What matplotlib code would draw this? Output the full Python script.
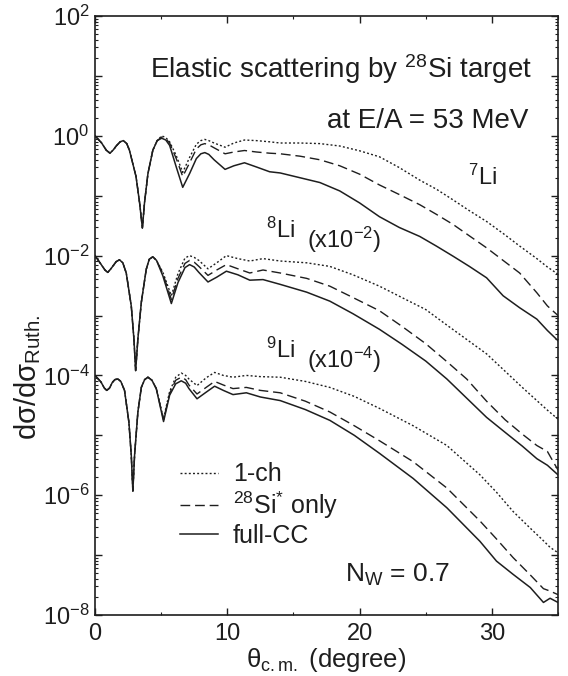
import matplotlib
matplotlib.use("Agg")
import matplotlib.pyplot as plt
import numpy as np
from matplotlib.ticker import LogLocator, FuncFormatter, NullFormatter, MultipleLocator

plt.rcParams['font.family'] = ['Liberation Sans', 'DejaVu Sans']
plt.rcParams['mathtext.fontset'] = 'custom'
plt.rcParams['mathtext.rm'] = 'Liberation Sans'
plt.rcParams['mathtext.it'] = 'Liberation Sans:italic'
plt.rcParams['mathtext.bf'] = 'Liberation Sans:bold'
plt.rcParams['mathtext.sf'] = 'Liberation Sans'
plt.rcParams['mathtext.default'] = 'rm'

# scattering angle (deg) and log10(dsigma/dsigma_Ruth).
# forward angles: the three calculations lie on top of each other
th7_front = [0, 0.5, 0.85, 1.13, 1.4, 1.6, 1.9, 2.14, 2.4, 2.6, 3.1, 3.37, 3.58, 3.74,
             4.0, 4.37, 4.7]
li7_front = [0, -0.12, -0.24, -0.29, -0.23, -0.17, -0.10, -0.08, -0.13, -0.24, -0.68,
             -1.12, -1.54, -1.12, -0.63, -0.24, -0.08]
th7_tail = [5.04, 5.35, 5.64, 6.14, 6.63, 7.15, 7.66, 8.0, 8.3, 8.6, 9.0, 9.83, 10.5,
            11.3, 12.2, 13.2, 14.0, 15.5, 17.0, 18.5, 20.0, 21.5, 23.0, 24.55, 25.8,
            27.07, 28.3, 29.6, 30.85, 32.1, 33.4, 34.2, 35]
li7_1ch = [0.0, -0.03, -0.10, -0.33, -0.61, -0.36, -0.14, -0.08, -0.06, -0.08, -0.12,
           -0.19, -0.12, -0.07, -0.08, -0.10, -0.12, -0.12, -0.13, -0.17, -0.25, -0.35,
           -0.53, -0.74, -0.89, -1.07, -1.25, -1.43, -1.63, -1.84, -2.05, -2.19, -2.31]
li7_si = [-0.02, -0.05, -0.12, -0.38, -0.68, -0.45, -0.22, -0.15, -0.13, -0.15, -0.20,
          -0.30, -0.27, -0.245, -0.27, -0.29, -0.30, -0.34, -0.40, -0.50, -0.64, -0.82,
          -0.98, -1.15, -1.31, -1.48, -1.67, -1.87, -2.08, -2.29, -2.62, -2.84, -3.00]
li7_cc = [-0.04, -0.07, -0.16, -0.52, -0.86, -0.63, -0.38, -0.30, -0.28, -0.31, -0.40,
          -0.56, -0.50, -0.45, -0.52, -0.60, -0.62, -0.70, -0.78, -0.92, -1.12, -1.35,
          -1.53, -1.68, -1.84, -2.01, -2.18, -2.37, -2.67, -2.87, -3.06, -3.25, -3.42]

th8_front = [0, 0.47, 0.75, 0.96, 1.2, 1.4, 1.6, 1.85, 2.1, 2.36, 2.74, 2.94, 3.07, 3.24,
             3.5, 3.87, 4.1, 4.37, 4.65]
li8_front = [0, -0.15, -0.24, -0.28, -0.22, -0.16, -0.10, -0.07, -0.12, -0.29, -0.84,
             -1.39, -1.92, -1.39, -0.78, -0.23, -0.06, -0.02, -0.08]
th8_tail = [5.13, 5.77, 6.27, 6.8, 7.15, 7.5, 7.85, 8.54, 9.2, 9.93, 10.8, 11.7, 12.7,
            14.0, 16.0, 17.75, 19.5, 21.5, 23.2, 25.0, 26.6, 28.1, 29.6, 31.0, 32.3,
            33.4, 34.2, 35]
li8_1ch = [-0.28, -0.67, -0.30, -0.04, 0.0, -0.03, -0.08, -0.22, -0.12, 0.0, -0.05,
           -0.09, -0.05, -0.09, -0.12, -0.18, -0.32, -0.51, -0.70, -0.90, -1.16, -1.40,
           -1.64, -1.93, -2.20, -2.42, -2.58, -2.73]
li8_si = [-0.30, -0.73, -0.38, -0.13, -0.08, -0.11, -0.18, -0.33, -0.24, -0.15, -0.22,
          -0.29, -0.24, -0.29, -0.38, -0.51, -0.70, -0.92, -1.18, -1.47, -1.77, -2.06,
          -2.43, -2.74, -2.98, -3.17, -3.27, -3.58]
li8_cc = [-0.34, -0.80, -0.45, -0.20, -0.15, -0.19, -0.28, -0.44, -0.36, -0.26, -0.32,
          -0.41, -0.40, -0.48, -0.61, -0.76, -0.97, -1.23, -1.48, -1.76, -2.06, -2.38,
          -2.70, -2.95, -3.18, -3.39, -3.50, -3.66]

th9_front = [0, 0.45, 0.7, 0.89, 1.1, 1.3, 1.5, 1.73, 1.95, 2.23, 2.56, 2.74, 2.86, 2.99,
             3.24, 3.5, 3.75, 4.0, 4.3, 4.63]
li9_front = [0, -0.11, -0.21, -0.25, -0.21, -0.12, -0.07, -0.06, -0.10, -0.25, -0.78,
             -1.33, -1.93, -1.33, -0.61, -0.20, -0.07, -0.03, -0.08, -0.22]
th9_tail = [5.18, 5.64, 6.1, 6.52, 6.85, 7.1, 7.71, 8.4, 9.04, 9.7, 10.43, 11.44, 12.5,
            14.0, 15.9, 17.75, 19.6, 21.5, 24.05, 26.6, 29.1, 30.35, 31.6, 32.9, 33.9,
            34.4, 35]
li9_1ch = [-0.72, -0.27, -0.03, 0.04, 0.0, -0.06, -0.17, -0.04, 0.05, 0.0, -0.03, 0.0,
           -0.02, -0.03, -0.10, -0.20, -0.35, -0.55, -0.84, -1.17, -1.66, -1.95, -2.27,
           -2.55, -2.76, -2.87, -2.96]
li9_si = [-0.74, -0.30, -0.08, -0.03, -0.07, -0.16, -0.31, -0.20, -0.10, -0.16, -0.22,
          -0.20, -0.25, -0.29, -0.43, -0.61, -0.84, -1.09, -1.44, -1.88, -2.43, -2.73,
          -3.04, -3.33, -3.56, -3.60, -3.66]
li9_cc = [-0.77, -0.33, -0.14, -0.09, -0.13, -0.22, -0.39, -0.28, -0.18, -0.25, -0.32,
          -0.29, -0.36, -0.42, -0.57, -0.75, -1.00, -1.30, -1.72, -2.21, -2.77, -3.10,
          -3.32, -3.54, -3.79, -3.72, -3.79]

# plotting offsets: 7Li x1, 8Li x10^-2, 9Li x10^-4
scales = [1.0, 1e-2, 1e-4]
labels = ['1-ch', '$^{28}$Si$^{*}$ only', 'full-CC']

ink = '#1e1e1e'
fig = plt.figure(figsize=(5.68, 6.76), dpi=100)
ax = fig.add_axes([0.1673, 0.0902, 0.8151, 0.8861])

styles = [(0, (1.4, 1.6)), (0, (7, 3.5)), '-']
widths = [1.0, 1.0, 1.1]
nuclei = [(th7_front, li7_front, th7_tail, [li7_1ch, li7_si, li7_cc]),
          (th8_front, li8_front, th8_tail, [li8_1ch, li8_si, li8_cc]),
          (th9_front, li9_front, th9_tail, [li9_1ch, li9_si, li9_cc])]
for i, (thf, vf, tht, series) in enumerate(nuclei):
    th = np.array(thf + tht)
    for j, v in enumerate(series):
        y = 10**np.array(vf + v) * scales[i]
        ax.plot(th, y, color=ink, lw=widths[j], ls=styles[j],
                solid_joinstyle='round', label=labels[j] if i == 0 else None)

ax.set_yscale('log')
ax.set_xlim(0, 35)
ax.set_ylim(1e-8, 1e2)
ax.xaxis.set_major_locator(MultipleLocator(10))
ax.xaxis.set_minor_locator(MultipleLocator(5))
ax.yaxis.set_major_locator(LogLocator(base=10, numticks=20))
ax.yaxis.set_minor_locator(LogLocator(base=10, subs=np.arange(2, 10), numticks=20))
ax.yaxis.set_minor_formatter(NullFormatter())


def ylab(v, pos):
    e = int(round(np.log10(v)))
    return '$10^{%d}$' % e if e % 2 == 0 else ''


ax.yaxis.set_major_formatter(FuncFormatter(ylab))
ax.tick_params(which='both', direction='in', top=True, right=True, colors=ink)
ax.tick_params(which='major', length=5, width=1.0, labelsize=17)
ax.tick_params(which='minor', length=2.5, width=0.8)
ax.tick_params(axis='x', pad=6)
ax.tick_params(axis='y', pad=4)
for sp in ax.spines.values():
    sp.set_linewidth(1.2)
    sp.set_color(ink)

ax.set_xlabel('θ$_{\\rm c.m.}$ (degree)', fontsize=18.5, color=ink)
ax.xaxis.set_label_coords(0.5, -0.099)
ax.xaxis.label.set_va('bottom')
ax.set_ylabel('dσ/dσ$_{\\rm Ruth.}$', fontsize=21, color=ink)
ax.yaxis.set_label_coords(-0.112, 0.397)

ax.text(0.944, 0.9115, 'Elastic scattering by $^{28}$Si target', transform=ax.transAxes,
        ha='right', va='center', fontsize=20, color=ink)
ax.text(0.935, 0.8247, 'at E/A = 53 MeV', transform=ax.transAxes,
        ha='right', va='center', fontsize=20, color=ink)
ax.text(0.806, 0.718, '$^{7}$Li', transform=ax.transAxes, ha='left', va='baseline',
        fontsize=17, color=ink)
ax.text(0.369, 0.629, '$^{8}$Li', transform=ax.transAxes, ha='left', va='baseline',
        fontsize=17, color=ink)
ax.text(0.458, 0.6127, '(x10$^{-2}$)', transform=ax.transAxes, ha='left', va='baseline',
        fontsize=17, color=ink)
ax.text(0.369, 0.429, '$^{9}$Li', transform=ax.transAxes, ha='left', va='baseline',
        fontsize=17, color=ink)
ax.text(0.458, 0.412, '(x10$^{-4}$)', transform=ax.transAxes, ha='left', va='baseline',
        fontsize=17, color=ink)
ax.text(0.54, 0.067, 'N$_{\\rm W}$ = 0.7', transform=ax.transAxes, ha='left', va='center',
        fontsize=19, color=ink)

leg = ax.legend(loc='upper left', bbox_to_anchor=(0.184, 0.255), frameon=False,
                fontsize=18, handlelength=1.5, handletextpad=0.6, labelspacing=0.12,
                borderpad=0, borderaxespad=0)
for t in leg.get_texts():
    t.set_color(ink)

fig.savefig('out.png', dpi=100)
